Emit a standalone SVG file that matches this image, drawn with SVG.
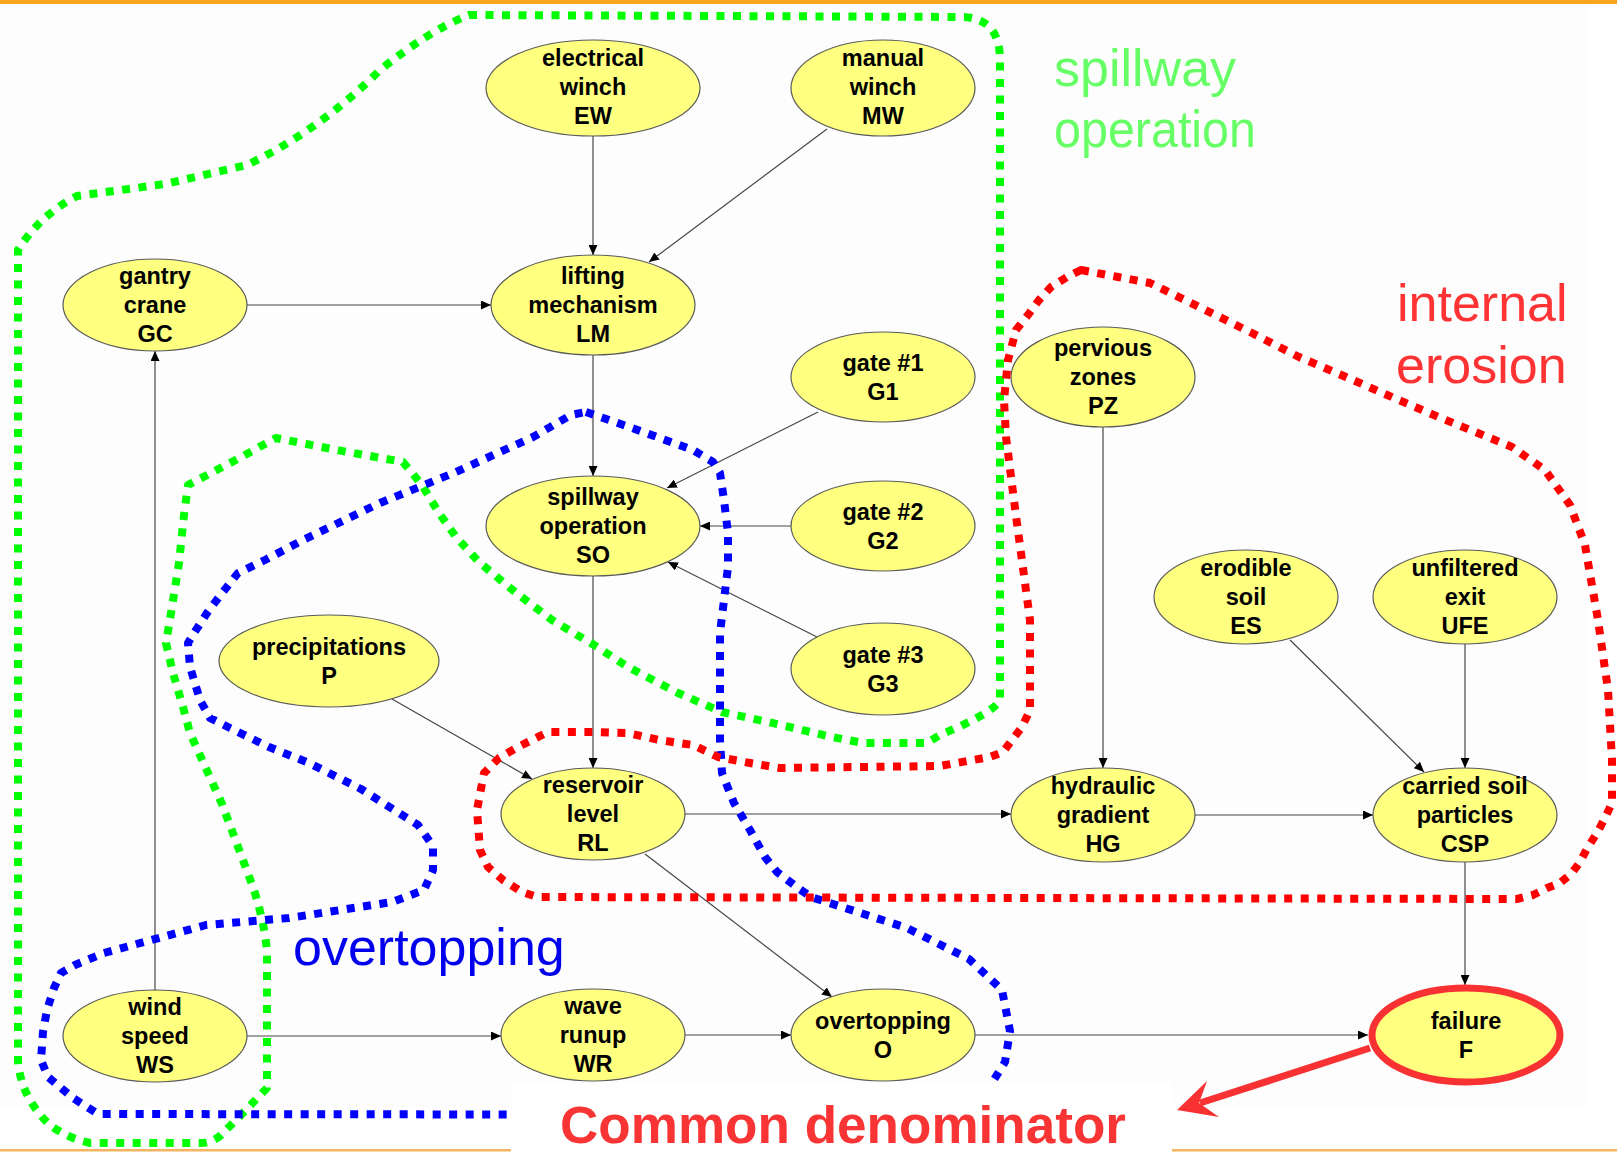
<svg xmlns="http://www.w3.org/2000/svg" width="1617" height="1152" viewBox="0 0 1617 1152">
  <style>
    .node ellipse { fill: #ffff80; stroke: #5a5a5a; stroke-width: 1.2; }
    .node text { font-family: "Liberation Sans", Arial, sans-serif; font-weight: bold; font-size: 23.5px; text-anchor: middle; fill: #000; }
    .edge { fill: none; stroke: #474747; stroke-width: 1.2; marker-end: url(#arr); }
    .zone { fill: none; stroke-width: 8; stroke-dasharray: 8 8.5; stroke-linejoin: round; }
    .label { font-family: "Liberation Sans", Arial, sans-serif; font-size: 52px; }
  </style>
  <defs>
    <marker id="arr" markerUnits="userSpaceOnUse" markerWidth="10" markerHeight="9" refX="10" refY="4.5" orient="auto">
      <path d="M0,0 L10,4.5 L0,9 Z" fill="#000"/>
    </marker>
  </defs>

  <!-- page -->
  <rect x="0" y="0" width="1617" height="1152" fill="#fff"/>
  <rect x="0" y="4" width="1587" height="1103" fill="#fdfdfd"/>
  <rect x="0" y="0" width="1617" height="4" fill="#fba41e"/>
  <rect x="0" y="1149" width="1617" height="2.5" fill="#f5b460"/>

  <!-- connectors -->
  <g id="connectors">
    <path class="edge" d="M593,136 L593,255"/>
    <path class="edge" d="M827,129 L649,262"/>
    <path class="edge" d="M247,305 L491,305"/>
    <path class="edge" d="M155,990 L155,351"/>
    <path class="edge" d="M593,355 L593,476"/>
    <path class="edge" d="M818,412 L667,488"/>
    <path class="edge" d="M791,526 L700,526"/>
    <path class="edge" d="M817,637 L668,562"/>
    <path class="edge" d="M593,576 L593,768"/>
    <path class="edge" d="M392,699 L532,779"/>
    <path class="edge" d="M685,814 L1011,814"/>
    <path class="edge" d="M645,854 L832,997"/>
    <path class="edge" d="M1103,427 L1103,768"/>
    <path class="edge" d="M1195,815 L1373,815"/>
    <path class="edge" d="M1290,640 L1424,772"/>
    <path class="edge" d="M1465,644 L1465,768"/>
    <path class="edge" d="M1465,862 L1465,985"/>
    <path class="edge" d="M247,1036 L501,1036"/>
    <path class="edge" d="M685,1035 L791,1035"/>
    <path class="edge" d="M975,1035 L1368,1035"/>
  </g>

  <!-- nodes -->
  <g id="EW" class="node">
    <ellipse cx="593" cy="88" rx="107" ry="48"/>
    <text x="593" y="66">electrical</text><text x="593" y="95">winch</text><text x="593" y="124">EW</text>
  </g>
  <g id="MW" class="node">
    <ellipse cx="883" cy="88" rx="92" ry="48"/>
    <text x="883" y="66">manual</text><text x="883" y="95">winch</text><text x="883" y="124">MW</text>
  </g>
  <g id="GC" class="node">
    <ellipse cx="155" cy="305" rx="92" ry="46"/>
    <text x="155" y="284">gantry</text><text x="155" y="313">crane</text><text x="155" y="342">GC</text>
  </g>
  <g id="LM" class="node">
    <ellipse cx="593" cy="305" rx="102" ry="50"/>
    <text x="593" y="284">lifting</text><text x="593" y="313">mechanism</text><text x="593" y="342">LM</text>
  </g>
  <g id="G1" class="node">
    <ellipse cx="883" cy="377" rx="92" ry="45"/>
    <text x="883" y="371">gate #1</text><text x="883" y="400">G1</text>
  </g>
  <g id="PZ" class="node">
    <ellipse cx="1103" cy="377" rx="92" ry="50"/>
    <text x="1103" y="356">pervious</text><text x="1103" y="385">zones</text><text x="1103" y="414">PZ</text>
  </g>
  <g id="SO" class="node">
    <ellipse cx="593" cy="526" rx="107" ry="50"/>
    <text x="593" y="505">spillway</text><text x="593" y="534">operation</text><text x="593" y="563">SO</text>
  </g>
  <g id="G2" class="node">
    <ellipse cx="883" cy="526" rx="92" ry="45"/>
    <text x="883" y="520">gate #2</text><text x="883" y="549">G2</text>
  </g>
  <g id="G3" class="node">
    <ellipse cx="883" cy="669" rx="92" ry="46"/>
    <text x="883" y="663">gate #3</text><text x="883" y="692">G3</text>
  </g>
  <g id="P" class="node">
    <ellipse cx="329" cy="661" rx="110" ry="46"/>
    <text x="329" y="655">precipitations</text><text x="329" y="684">P</text>
  </g>
  <g id="ES" class="node">
    <ellipse cx="1246" cy="597" rx="92" ry="47"/>
    <text x="1246" y="576">erodible</text><text x="1246" y="605">soil</text><text x="1246" y="634">ES</text>
  </g>
  <g id="UFE" class="node">
    <ellipse cx="1465" cy="597" rx="92" ry="47"/>
    <text x="1465" y="576">unfiltered</text><text x="1465" y="605">exit</text><text x="1465" y="634">UFE</text>
  </g>
  <g id="RL" class="node">
    <ellipse cx="593" cy="814" rx="92" ry="46"/>
    <text x="593" y="793">reservoir</text><text x="593" y="822">level</text><text x="593" y="851">RL</text>
  </g>
  <g id="HG" class="node">
    <ellipse cx="1103" cy="815" rx="92" ry="47"/>
    <text x="1103" y="794">hydraulic</text><text x="1103" y="823">gradient</text><text x="1103" y="852">HG</text>
  </g>
  <g id="CSP" class="node">
    <ellipse cx="1465" cy="815" rx="92" ry="47"/>
    <text x="1465" y="794">carried soil</text><text x="1465" y="823">particles</text><text x="1465" y="852">CSP</text>
  </g>
  <g id="WS" class="node">
    <ellipse cx="155" cy="1036" rx="92" ry="46"/>
    <text x="155" y="1015">wind</text><text x="155" y="1044">speed</text><text x="155" y="1073">WS</text>
  </g>
  <g id="WR" class="node">
    <ellipse cx="593" cy="1035" rx="92" ry="46"/>
    <text x="593" y="1014">wave</text><text x="593" y="1043">runup</text><text x="593" y="1072">WR</text>
  </g>
  <g id="O" class="node">
    <ellipse cx="883" cy="1035" rx="92" ry="46"/>
    <text x="883" y="1029">overtopping</text><text x="883" y="1058">O</text>
  </g>
  <g id="F" class="node">
    <ellipse cx="1466" cy="1035" rx="94" ry="47" style="stroke:#f83232;stroke-width:7"/>
    <text x="1466" y="1029">failure</text><text x="1466" y="1058">F</text>
  </g>

  <!-- dotted zone outlines -->
  <g id="zones">
    <path id="zone-spillway" class="zone" stroke="#00ff00" d="M469,15 L964,17 Q1000,19 1000,60 L1000,700 Q995,712 940,735 L927,743 L863,743 L832,737 L768,722 L722,712 L678,693 L628,667 L594,645 L552,620 L515,592 L479,562 L456,537 L439,513 L422,485 L403,462 L337,450 L276,438 L232,462 L188,485 L184,515 L179,563 L171,613 L166,643 L173,673 L183,707 L190,733 L222,804 L253,887 Q267,930 267,959 L267,1088 L243,1113 L221,1135 Q212,1143 200,1143 L90,1143 Q55,1135 39,1113 Q20,1090 18,1060 L18,250 Q40,215 77,196 L165,184 L247,165 Q320,130 380,70 Q430,30 469,15 Z"/>
    <path id="zone-overtopping" class="zone" stroke="#0000ff" d="M586,412 L632,428 L693,450 L713,462 L720,473 L724,500 L728,533 L728,567 L720,633 L720,740 L722,773 L734,803 L750,830 L765,857 L777,872 L798,888 L811,897 L907,928 L969,959 L1002,990 L1010,1031 L1005,1062 L990,1086 L960,1115 L98,1114 L73,1098 L48,1077 L41,1060 L43,1032 L47,1010 L54,988 L61,973 L75,965 L104,953 L206,925 L289,918 L392,902 L424,890 L433,870 L433,846 L418,825 L361,789 L309,763 L269,747 L230,728 L210,718 L200,700 L190,667 L188,643 L196,630 L207,613 L219,597 L238,573 L265,560 L303,540 L380,503 L456,472 L533,437 L571,415 Z"/>
    <path id="zone-erosion" class="zone" stroke="#ff0000" d="M1081,270 L1118,277 L1150,283 L1185,300 L1252,333 L1299,357 L1346,377 L1394,398 L1441,418 L1512,447 L1545,470 L1570,505 L1585,545 L1598,620 L1608,690 L1612,760 L1612,803 L1605,818 L1597,833 L1588,847 L1580,862 L1572,873 L1560,883 L1547,888 L1533,895 L1517,899 L537,897 L522,892 L503,880 L488,867 L480,850 L477,810 L484,773 L499,758 L518,747 L548,732 L594,732 L628,733 L659,740 L693,745 L718,757 L750,763 L780,768 L940,766 L973,760 L990,757 L1003,752 L1012,740 L1022,727 L1030,710 L1030,620 L1016,516 L1006,437 L1004,400 L1008,360 L1016,330 L1028,315 L1039,300 L1051,287 L1067,277 Z"/>
  </g>

  <!-- zone captions -->
  <g id="captions">
    <text class="label" x="1054" y="86" fill="#66ff66">spillway</text>
    <text class="label" x="1054" y="147" fill="#66ff66" textLength="202" lengthAdjust="spacingAndGlyphs">operation</text>
    <text class="label" x="1397" y="321" fill="#ff3333">internal</text>
    <text class="label" x="1396" y="383" fill="#ff3333">erosion</text>
    <text class="label" x="293" y="965" fill="#0000ee">overtopping</text>
  </g>

  <!-- caption box and pointer to the failure node -->
  <g id="common-denominator">
    <rect x="511" y="1083" width="661" height="69" fill="#fff"/>
    <text x="560" y="1143" font-family="Liberation Sans, Arial, sans-serif" font-weight="bold" font-size="51" fill="#f83434" textLength="566" lengthAdjust="spacingAndGlyphs">Common denominator</text>
    <path d="M1370,1048 L1200,1103" stroke="#f83232" stroke-width="7" fill="none"/>
    <path d="M1177,1110 L1207,1081 L1199,1103 L1219,1117 Z" fill="#f83232"/>
  </g>
</svg>
